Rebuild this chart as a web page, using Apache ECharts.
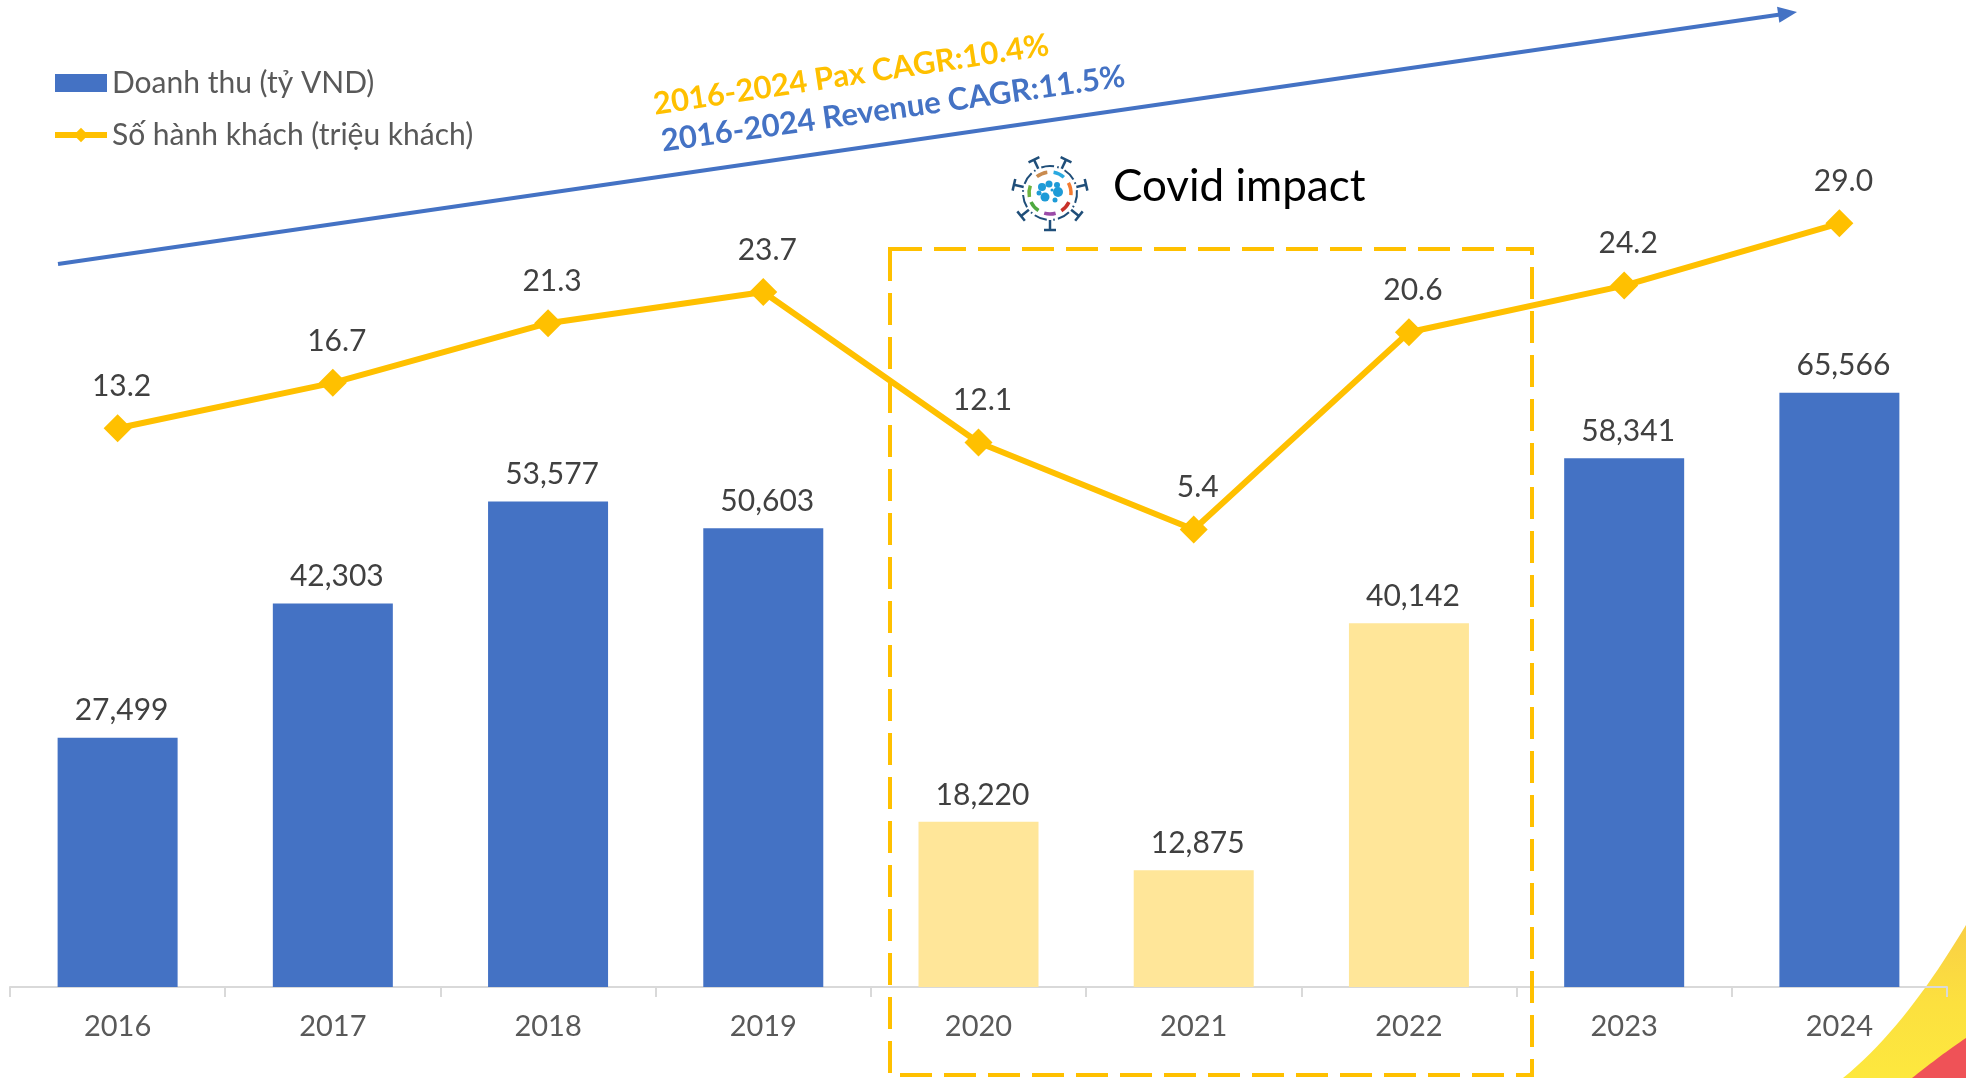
<!DOCTYPE html>
<html>
<head>
<meta charset="utf-8">
<style>html,body{margin:0;padding:0;background:#fff}#c{width:1966px;height:1078px}</style>
<script src="https://cdn.jsdelivr.net/npm/echarts@6/dist/echarts.min.js"></script>
</head>
<body>
<div id="c"></div>
<script>
const years = ['2016','2017','2018','2019','2020','2021','2022','2023','2024'];
const revenue = [27499,42303,53577,50603,18220,12875,40142,58341,65566];
const passengers = [13.2,16.7,21.3,23.7,12.1,5.4,20.6,24.2,29.0];
const covidYears = ['2020','2021','2022'];
const revenueName = 'Doanh thu (tỷ VND)';
const paxName = 'Số hành khách (triệu khách)';
const paxCagr = '2016-2024 Pax CAGR:10.4%';
const revCagr = '2016-2024 Revenue CAGR:11.5%';
const covidTitle = 'Covid impact';

const FONT = 'Lato';
const BLUE = '#4472C4', GOLD = '#FFC000', PALE = '#FFE699';

function virusIcon(cx, cy) {
  const els = [];
  const navy = '#1F4E79';
  const n = 7, rRing = 27, rSpike = 37;
  for (let i = 0; i < n; i++) {
    const a = Math.PI / 2 + i * 2 * Math.PI / n;
    const ca = Math.cos(a), sa = Math.sin(a);
    els.push({type:'line', shape:{x1:cx+ca*rRing, y1:cy+sa*rRing, x2:cx+ca*rSpike, y2:cy+sa*rSpike}, style:{stroke:navy, lineWidth:2.5}});
    els.push({type:'line', shape:{x1:cx+ca*rSpike-sa*6, y1:cy+sa*rSpike+ca*6, x2:cx+ca*rSpike+sa*6, y2:cy+sa*rSpike-ca*6}, style:{stroke:navy, lineWidth:2.5}});
    els.push({type:'arc', shape:{cx, cy, r:rRing, startAngle:a+0.12, endAngle:a+0.6}, style:{stroke:navy, fill:null, lineWidth:2}});
    els.push({type:'arc', shape:{cx, cy, r:rRing, startAngle:a+0.72, endAngle:a+2*Math.PI/n-0.12}, style:{stroke:navy, fill:null, lineWidth:2}});
  }
  const people = [['#C98B4F',-2.25,-1.7],['#29A9E0',-1.4,-0.85],['#F47B30',-0.5,0.1],['#C8312A',0.45,1.0],['#9B4BA8',1.3,1.85],['#4EA93F',2.15,2.7],['#6DB33F',2.95,3.5]];
  people.forEach(p => els.push({type:'arc', shape:{cx, cy, r:21, startAngle:p[1], endAngle:p[2]}, style:{stroke:p[0], fill:null, lineWidth:3.5}}));
  [[-8,-6,4],[-1,-9,3.5],[7,-8,3],[8,-1,5],[-5,4,4.5],[5,7,2.5],[-11,0,2.5],[2,-3,1.5]].forEach(b =>
    els.push({type:'circle', shape:{cx:cx+b[0], cy:cy+b[1], r:b[2]}, style:{fill:'#1E9BD7'}}));
  return els;
}

function curve(p0, p1, p2, p3, close) {
  const pts = [];
  for (let t = 0; t <= 1.0001; t += 0.05) {
    const u = 1 - t;
    pts.push([
      u*u*u*p0[0] + 3*u*u*t*p1[0] + 3*u*t*t*p2[0] + t*t*t*p3[0],
      u*u*u*p0[1] + 3*u*u*t*p1[1] + 3*u*t*t*p2[1] + t*t*t*p3[1]
    ]);
  }
  return pts.concat(close);
}

const chart = echarts.init(document.getElementById('c'), null, {renderer:'canvas'});
const arrowEnd = [1797,12], arrowStart = [58,264];
const ang = Math.atan2(arrowEnd[1]-arrowStart[1], arrowEnd[0]-arrowStart[0]);
const head = (d, w) => [arrowEnd[0]-Math.cos(ang)*d-Math.sin(ang)*w, arrowEnd[1]-Math.sin(ang)*d+Math.cos(ang)*w];

chart.setOption({
  animation:false,
  backgroundColor:'#fff',
  textStyle:{fontFamily:FONT},
  grid:{left:10, right:19, top:0, bottom:91, containLabel:false},
  legend:{
    left:47, top:63, orient:'vertical', itemGap:22, itemWidth:52, itemHeight:18,
    selectedMode:false, align:'left',
    lineStyle:{width:6},
    textStyle:{fontFamily:FONT, fontSize:30, color:'#595959'},
    data:[{name:revenueName, icon:'rect'},{name:paxName}]
  },
  xAxis:{
    type:'category', data:years,
    axisLine:{lineStyle:{color:'#D9D9D9', width:2}},
    axisTick:{show:true, alignWithLabel:false, length:10, lineStyle:{color:'#D9D9D9', width:2}},
    axisLabel:{fontFamily:FONT, fontSize:29, color:'#595959', margin:25}
  },
  yAxis:[
    {type:'value', min:0, max:108900, show:false, splitLine:{show:false}},
    {type:'value', min:-29.88, max:46.22, show:false, splitLine:{show:false}}
  ],
  series:[
    {
      name:revenueName, type:'bar', yAxisIndex:0, barWidth:120,
      itemStyle:{color:BLUE},
      data:revenue.map((v,i)=>covidYears.includes(years[i]) ? {value:v, itemStyle:{color:PALE}} : v),
      label:{show:true, position:'top', distance:12, offset:[4,0], fontFamily:FONT, fontSize:30, color:'#404040',
        formatter:p=>p.value.toLocaleString('en-US')}
    },
    {
      name:paxName, type:'line', yAxisIndex:1, data:passengers,
      symbol:'diamond', symbolSize:28, showSymbol:true,
      lineStyle:{color:GOLD, width:6}, itemStyle:{color:GOLD},
      label:{show:true, position:'top', distance:13, offset:[4,0], fontFamily:FONT, fontSize:30, color:'#404040',
        formatter:p=>p.value.toFixed(1)},
      z:5
    }
  ],
  graphic:[
    {type:'polygon', z:-1, shape:{points:curve([1966,925],[1930,985],[1890,1040],[1843,1078],[[1966,1078]])},
      style:{fill:{type:'linear',x:0,y:0,x2:0,y2:1,colorStops:[{offset:0,color:'#F9CF45'},{offset:0.5,color:'#FCE03F'},{offset:1,color:'#FDE83E'}]}}},
    {type:'polygon', z:-1, shape:{points:curve([1966,1038],[1945,1052],[1930,1064],[1912,1078],[[1966,1078]])}, style:{fill:'#EF5257'}},
    {type:'rect', z:100, shape:{x:890, y:249, width:642, height:826}, style:{fill:null, stroke:GOLD, lineWidth:4, lineDash:[32,12]}},
    {type:'line', z:100, shape:{x1:arrowStart[0], y1:arrowStart[1], x2:head(10,0)[0], y2:head(10,0)[1]}, style:{stroke:BLUE, lineWidth:4}},
    {type:'polygon', z:100, shape:{points:[arrowEnd, head(19,8), head(19,-8)]}, style:{fill:BLUE}},
    {type:'text', z:100, x:851, y:75, rotation:0.15, style:{text:paxCagr, fill:GOLD, fontFamily:FONT, fontWeight:'bold', fontSize:31, textAlign:'center', textVerticalAlign:'middle'}},
    {type:'text', z:100, x:893, y:109, rotation:0.14, style:{text:revCagr, fill:BLUE, fontFamily:FONT, fontWeight:'bold', fontSize:31, textAlign:'center', textVerticalAlign:'middle'}},
    {type:'text', z:100, x:1113, y:187, style:{text:covidTitle, fill:'#000', fontFamily:FONT, fontSize:44, textAlign:'left', textVerticalAlign:'middle'}},
    {type:'group', z:100, children:virusIcon(1050,193)}
  ]
});
</script>
</body>
</html>
